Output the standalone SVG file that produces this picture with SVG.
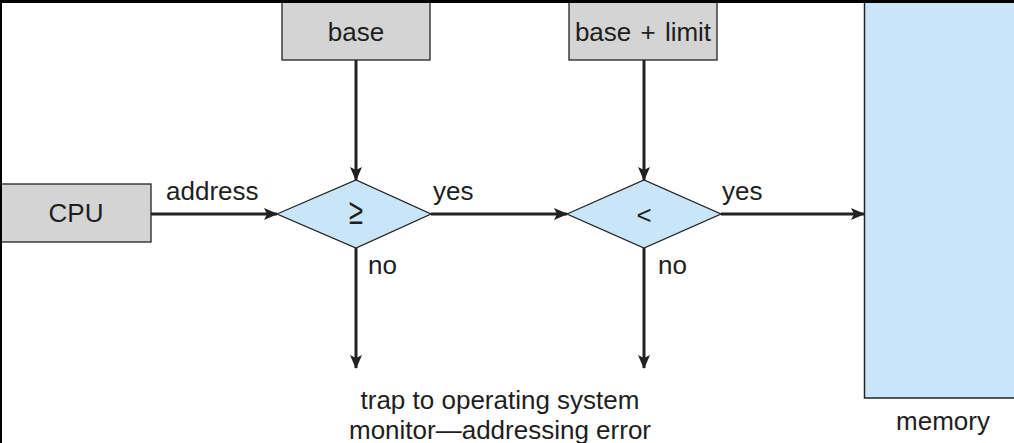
<svg xmlns="http://www.w3.org/2000/svg" width="1014" height="443" viewBox="0 0 1014 443">
<style>
.t{font-family:"Liberation Sans",Arial,sans-serif;font-size:26px;fill:#1e1e1e}
.box{fill:#d4d4d4;stroke:#222;stroke-width:1.3}
.dia{fill:#c8e6f8;stroke:#222;stroke-width:1.3}
.mem{fill:#c8e6f8;stroke:#222;stroke-width:1.5}
.ln{stroke:#222;stroke-width:3;fill:none}
</style>
<defs>
<marker id="ah" markerWidth="14" markerHeight="12" refX="13" refY="6" orient="auto" markerUnits="userSpaceOnUse">
<path d="M0,0 L14,6 L0,12 L3,6 Z" fill="#222"/>
</marker>
</defs>
<rect x="0" y="0" width="1014" height="443" fill="#fff"/>
<g id="memory">
<rect class="mem" x="864.5" y="1" width="160" height="397"/>
<text class="t" x="943" y="430" text-anchor="middle">memory</text>
</g>
<g id="base">
<rect class="box" x="282" y="1" width="148" height="59"/>
<text class="t" x="356" y="41" text-anchor="middle">base</text>
</g>
<g id="baselimit">
<rect class="box" x="569" y="1" width="148" height="59"/>
<text class="t" x="643" y="41" text-anchor="middle" word-spacing="2">base + limit</text>
</g>
<g id="cpu">
<rect class="box" x="0" y="184" width="151" height="58"/>
<text class="t" x="76" y="222" text-anchor="middle">CPU</text>
</g>
<g id="cmp1">
<polygon class="dia" points="277,214 356,180 431,214 356,248"/>
<text class="t" transform="translate(356,224) scale(0.95,1.35)" text-anchor="middle" style="font-size:27px">≥</text>
</g>
<g id="cmp2">
<polygon class="dia" points="567,214 644,180 721,214 644,248"/>
<text class="t" x="644" y="224" text-anchor="middle">&lt;</text>
</g>
<g id="trap">
<text class="t" x="500" y="409" text-anchor="middle">trap to operating system</text>
<text class="t" x="500" y="439" text-anchor="middle">monitor—addressing error</text>
</g>
<g id="connectors">
<line class="ln" x1="151" y1="214" x2="277" y2="214" marker-end="url(#ah)"/>
<line class="ln" x1="356" y1="60" x2="356" y2="180" marker-end="url(#ah)"/>
<line class="ln" x1="644" y1="60" x2="644" y2="180" marker-end="url(#ah)"/>
<line class="ln" x1="431" y1="214" x2="567" y2="214" marker-end="url(#ah)"/>
<line class="ln" x1="721" y1="214" x2="864" y2="214" marker-end="url(#ah)"/>
<line class="ln" x1="356" y1="248" x2="356" y2="368" marker-end="url(#ah)"/>
<line class="ln" x1="644" y1="248" x2="644" y2="368" marker-end="url(#ah)"/>
<text class="t" x="166" y="200">address</text>
<text class="t" x="433" y="200">yes</text>
<text class="t" x="722" y="200">yes</text>
<text class="t" x="368" y="274">no</text>
<text class="t" x="658" y="274">no</text>
</g>
<g id="frame">
<line x1="0" y1="1.5" x2="1014" y2="1.5" stroke="#000" stroke-width="3"/>
<line x1="1" y1="0" x2="1" y2="443" stroke="#000" stroke-width="2"/>
</g>
</svg>
